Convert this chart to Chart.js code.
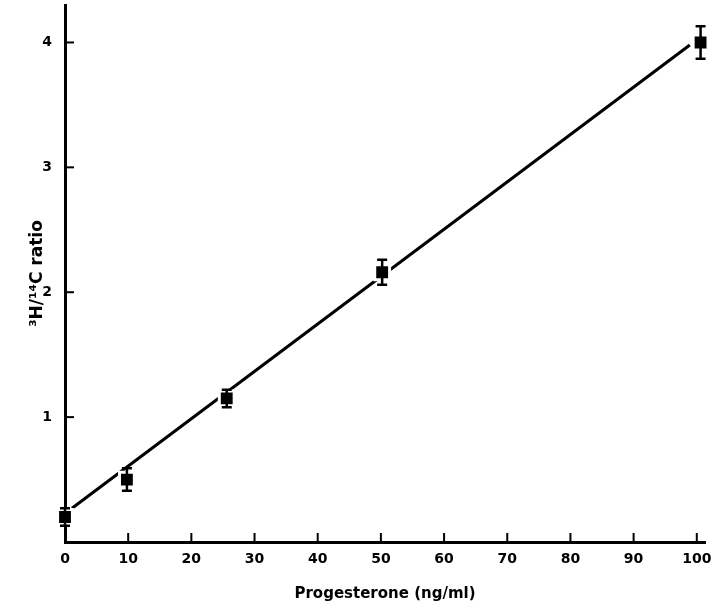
<!DOCTYPE html>
<html>
<head>
<meta charset="utf-8">
<script src="https://cdn.jsdelivr.net/npm/chart.js@4"></script>
<style>
  html, body { margin: 0; padding: 0; background: #fff; }
  #wrap { width: 713px; height: 609px; }
</style>
</head>
<body>
<div id="wrap"><canvas id="chart"></canvas></div>
<script>
// values
const doses = [0, 9.8, 25.6, 50.2, 100.6];
const ratios = [0.2, 0.5, 1.15, 2.16, 4.0];
const errors = [0.07, 0.09, 0.07, 0.1, 0.13];
const fitX = [1.1, 98.9];
const fitY = [0.27, 3.98];
const xTicks = [0, 10, 20, 30, 40, 50, 60, 70, 80, 90, 100];
const yTicks = [1, 2, 3, 4];

Chart.defaults.font.family = '"DejaVu Sans", sans-serif';
Chart.defaults.color = '#000';

// error bars and inward tick marks
const marks = {
  id: 'marks',
  afterDatasetsDraw(chart) {
    const { ctx, chartArea, scales: { x, y } } = chart;
    ctx.save();
    ctx.strokeStyle = '#000';
    ctx.lineWidth = 2.5;
    doses.forEach((d, i) => {
      const px = x.getPixelForValue(d);
      const top = y.getPixelForValue(ratios[i] + errors[i]);
      const bot = y.getPixelForValue(ratios[i] - errors[i]);
      ctx.beginPath();
      ctx.moveTo(px, top);
      ctx.lineTo(px, bot);
      ctx.moveTo(px - 5, top);
      ctx.lineTo(px + 5, top);
      ctx.moveTo(px - 5, bot);
      ctx.lineTo(px + 5, bot);
      ctx.stroke();
    });
    ctx.lineWidth = 2;
    xTicks.forEach(v => {
      if (v === 0) return;
      const px = x.getPixelForValue(v);
      ctx.beginPath();
      ctx.moveTo(px, chartArea.bottom);
      ctx.lineTo(px, chartArea.bottom - 9);
      ctx.stroke();
    });
    yTicks.forEach(v => {
      const py = y.getPixelForValue(v);
      ctx.beginPath();
      ctx.moveTo(chartArea.left, py);
      ctx.lineTo(chartArea.left + 9, py);
      ctx.stroke();
    });
    ctx.restore();
  }
};

new Chart(document.getElementById('chart'), {
  type: 'scatter',
  data: {
    datasets: [
      {
        data: fitX.map((v, i) => ({ x: v, y: fitY[i] })),
        showLine: true,
        borderColor: '#000',
        borderWidth: 3,
        pointRadius: 0,
        order: 2,
      },
      {
        data: doses.map((v, i) => ({ x: v, y: ratios[i] })),
        pointStyle: 'rect',
        pointRadius: 10.5,
        pointBackgroundColor: '#000',
        pointBorderColor: '#fff',
        pointBorderWidth: 3,
        clip: false,
        order: 1,
      },
    ],
  },
  options: {
    responsive: true,
    maintainAspectRatio: false,
    animation: false,
    layout: { autoPadding: false, padding: { top: 5, right: 8, left: 0, bottom: 0 } },
    plugins: { legend: { display: false }, tooltip: { enabled: false } },
    scales: {
      x: {
        type: 'linear',
        min: 0,
        max: 101.3,
        afterBuildTicks: s => { s.ticks = xTicks.map(v => ({ value: v })); },
        afterFit: s => { s.height = 67; s.paddingLeft = 0; s.paddingRight = 0; },
        grid: { display: false, drawTicks: false },
        border: { display: true, width: 3, color: '#000' },
        ticks: { padding: 9, font: { size: 14, weight: 'bold' }, maxRotation: 0 },
        title: {
          display: true,
          text: 'Progesterone (ng/ml)',
          font: { size: 15, weight: 'bold' },
          padding: { top: 4, bottom: 6 },
        },
      },
      y: {
        min: 0,
        max: 4.3,
        afterBuildTicks: s => { s.ticks = yTicks.map(v => ({ value: v })); },
        afterFit: s => { s.width = 65; s.paddingTop = 0; s.paddingBottom = 0; },
        grid: { display: false, drawTicks: false },
        border: { display: true, width: 3, color: '#000' },
        ticks: { padding: 13, font: { size: 14, weight: 'bold' } },
        title: {
          display: true,
          text: '³H/¹⁴C ratio',
          font: { size: 17, weight: 'bold' },
          padding: { top: 27, bottom: 4 },
        },
      },
    },
  },
  plugins: [marks],
});
</script>
</body>
</html>
